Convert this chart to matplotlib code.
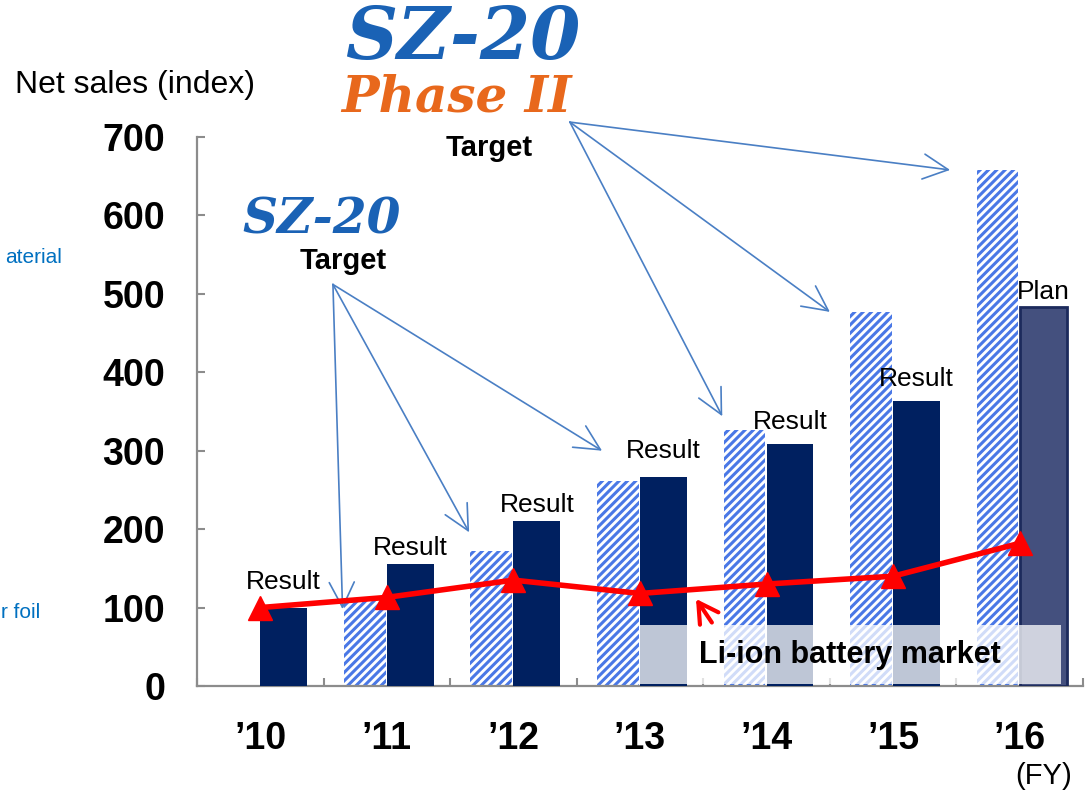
"""Net sales index vs. SZ-20 targets, with Li-ion battery market line."""

import matplotlib
matplotlib.use('Agg')
import matplotlib.patches as mpatches
import matplotlib.pyplot as plt
import numpy as np

plt.rcParams['font.family'] = ['Liberation Sans', 'DejaVu Sans']

# ---- data -------------------------------------------------------------
years = ["\u201910", "\u201911", "\u201912", "\u201913", "\u201914", "\u201915", "\u201916"]
result = [100, 155, 210, 267, 309, 364, 483]          # last one is the plan
result_labels = ['Result'] * 6 + ['Plan']
target = [np.nan, 112, 172, 262, 326, 477, 658]      # hatched target bars
market = [100, 113, 135, 118, 130, 140, 182]         # Li-ion battery market
yticks = [0, 100, 200, 300, 400, 500, 600, 700]

NAVY = '#002060'
HATCH_BLUE = '#4a78e6'
ARROW_BLUE = '#4a7fc4'
W, H = 1088, 795


def px(x, y):
    """pixel position -> figure fraction"""
    return x / W, 1 - y / H


fig = plt.figure(figsize=(W / 100, H / 100), dpi=100)
ax = fig.add_axes([197 / W, 1 - 686 / H, (1083 - 197) / W, (686 - 137) / H])
x = np.arange(len(years))

plt.rcParams['hatch.linewidth'] = 2.2
ax.bar(x - 0.175, target, width=0.33, color='white', edgecolor=HATCH_BLUE,
       hatch='////', linewidth=0, zorder=2)
colors = [NAVY] * 6 + ['#44507e']
edges = [NAVY] * 6 + ['#1c2a5c']
ax.bar(x + 0.185, result, width=0.37, color=colors, edgecolor=edges,
       linewidth=[0] * 6 + [2], zorder=3)

ax.plot(x, market, color='#ff0000', lw=4, marker='^', ms=17, zorder=6,
        clip_on=False)

# labels above result bars
label_off = [10, 3, 3, 10, 7, 7, 2]
for xi, v, lab, off in zip(x, result, result_labels, label_off):
    ax.annotate(lab, (xi + 0.185, v), xytext=(0, off), textcoords='offset points',
                ha='center', va='bottom', fontsize=19, zorder=7)

# Li-ion battery market box (translucent white)
ax.add_patch(mpatches.Rectangle((3.0, 2), 3.33, 76, facecolor='white',
                                alpha=0.75, edgecolor='none', zorder=5))
ax.text(4.66, 40, 'Li-ion battery market', ha='center', va='center',
        fontsize=22, fontweight='bold', zorder=7)
ax.annotate('', xy=(3.43, market[3] - 4), xytext=(3.58, 78),
            arrowprops=dict(arrowstyle='->,head_length=0.7,head_width=0.4',
                            color='#ff0000', lw=3, mutation_scale=20), zorder=7)

# target arrows
sz20_src = (0.574, 512)
phase2_src = (2.446, 719)
arrow_dx = [None, -0.35, -0.35, -0.30, -0.35, -0.50, -0.55]
arrow_dy = [None, -14, 24, 38, 18, 0, 0]
for i in range(1, 7):
    src = sz20_src if i <= 3 else phase2_src
    dst = (i + arrow_dx[i], target[i] + arrow_dy[i])
    ax.annotate('', xy=dst, xytext=src, annotation_clip=False,
                arrowprops=dict(arrowstyle='->,head_length=0.9,head_width=0.45',
                                color=ARROW_BLUE, lw=1.2, mutation_scale=20,
                                shrinkA=0, shrinkB=0), zorder=4)

# axes styling
ax.set_xlim(-0.5, 6.5)
ax.set_ylim(0, 700)
ax.set_yticks(yticks)
ax.set_yticklabels([str(t) for t in yticks], fontsize=27, fontweight='bold')
ax.set_xticks(np.arange(-0.5, 7.0, 1.0))
ax.set_xticklabels([])
ax.set_xticks(x, minor=True)
ax.set_xticklabels(years, minor=True, fontsize=27, fontweight='bold')
ax.tick_params(axis='y', direction='in', length=6, width=1.5, color='#8c8c8c', pad=23)
ax.tick_params(axis='x', which='major', direction='in', length=6, width=1.5, color='#8c8c8c')
ax.tick_params(axis='x', which='minor', length=0, pad=25)
for s in ['top', 'right']:
    ax.spines[s].set_visible(False)
for s in ['left', 'bottom']:
    ax.spines[s].set_color('#8c8c8c')
    ax.spines[s].set_linewidth(1.6)

# free text
fig.text(*px(15, 85), 'Net sales (index)', fontsize=23, va='center', ha='left')
fig.text(*px(1072, 776), '(FY)', fontsize=21, va='center', ha='right')
fig.text(*px(62, 258), 'aterial', fontsize=15, color='#0070c0', va='center', ha='right')
fig.text(*px(40, 613), 'r foil', fontsize=15, color='#0070c0', va='center', ha='right')

# logos
fig.text(*px(463, 38), 'SZ-20', fontsize=52, fontweight='bold', fontstyle='italic',
         family='DejaVu Serif', color='#1a62b5', ha='center', va='center')
fig.text(*px(456, 98), 'Phase II', fontsize=36, fontweight='bold', fontstyle='italic',
         family='DejaVu Serif', color='#e8681c', ha='center', va='center')
fig.text(*px(489, 148), 'Target', fontsize=21, fontweight='bold', ha='center', va='center')
fig.text(*px(322, 220), 'SZ-20', fontsize=35, fontweight='bold', fontstyle='italic',
         family='DejaVu Serif', color='#1a62b5', ha='center', va='center')
fig.text(*px(343, 261), 'Target', fontsize=21, fontweight='bold', ha='center', va='center')

fig.savefig('out.png', dpi=100)
